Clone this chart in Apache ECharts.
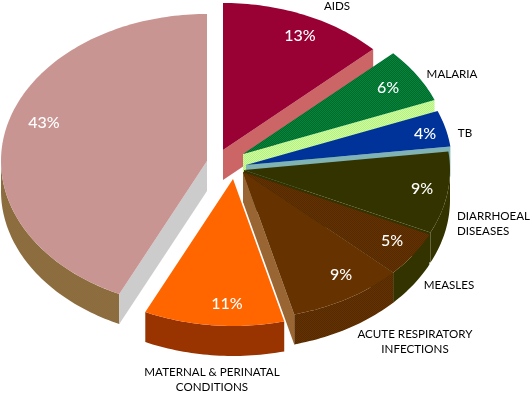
<!DOCTYPE html>
<html>
<head>
<meta charset="utf-8">
<style>
html, body { margin: 0; padding: 0; background: #fff; }
#chart { width: 531px; height: 396px; }
</style>
<script src="https://cdn.jsdelivr.net/npm/echarts@6/dist/echarts.min.js"></script>
</head>
<body>
<div id="chart"></div>
<script>
// values, clockwise from 12 o'clock
const categories = ['AIDS', 'MALARIA', 'TB', 'DIARRHOEAL\nDISEASES', 'MEASLES',
    'ACUTE RESPIRATORY\nINFECTIONS', 'MATERNAL & PERINATAL\nCONDITIONS', 'OTHER'];
const shares = [13, 6, 4, 9, 5, 9, 11, 43];

// layout of the tilted pie
const center = [244, 172];
const radiusX = 206;
const radiusY = 147;
const depth = 30;
const explodeX = [-21, -1, 2, 0, -1, -1, -11, -37];
const explodeY = [-22, -18, -7, -2, 0, 0, 7, -11];
const percentX = [300, 388, 425, 422, 392, 341, 227, 44];
const percentY = [36, 88, 134, 189, 241, 275, 304, 123];
const labelX = [337, 452, 465, 457, 449, 415, 212, 0];
const labelY = [6, 74, 133, 224, 285, 342, 380, 0];
const labelAlign = ['center', 'center', 'center', 'left', 'center', 'center', 'center', 'center'];

// two colour dither, like the old gif
function dither(a, b) {
    const c = document.createElement('canvas');
    c.width = 2;
    c.height = 2;
    const ctx = c.getContext('2d');
    ctx.fillStyle = a;
    ctx.fillRect(0, 0, 2, 2);
    ctx.fillStyle = b;
    ctx.fillRect(0, 0, 1, 1);
    ctx.fillRect(1, 1, 1, 1);
    return { image: c, repeat: 'repeat' };
}

const topColors = ['#990033', dither('#006633', '#008833'), '#003399', '#333300',
    dither('#663000', '#522b00'), '#663300', '#ff6600', '#c99592'];
const sideColors = ['#cc6666', '#ccff99', '#80b3b3', '#333300',
    '#333300', dither('#663000', '#522b00'), '#993300', dither('#9a6a35', '#80704a')];
const cutColors = ['#cc6666', dither('#ccff99', '#b8ee88'), '#80b3b3', '#333300',
    '#333300', '#996633', '#993300', '#cccccc'];

const starts = [];
shares.reduce(function (sum, v, i) {
    starts[i] = sum;
    return sum + v;
}, 0);
const total = shares.reduce(function (a, b) { return a + b; }, 0);

function toAngle(v) {
    return v / total * Math.PI * 2;
}

function arcPoints(cx, cy, a1, a2) {
    const pts = [];
    const n = Math.max(2, Math.ceil((a2 - a1) / 0.02));
    for (let i = 0; i <= n; i++) {
        const a = a1 + (a2 - a1) * i / n;
        pts.push([cx + radiusX * Math.sin(a), cy - radiusY * Math.cos(a)]);
    }
    return pts;
}

function poly(points, fill) {
    return { type: 'polygon', shape: { points: points }, style: { fill: fill, stroke: null } };
}

function renderSlice(params, api) {
    const i = params.dataIndex;
    const a1 = toAngle(api.value(1));
    const a2 = a1 + toAngle(api.value(0));
    const tx = center[0] + explodeX[i];
    const ty = center[1] + explodeY[i];
    const children = [];
    const down = function (p) { return [p[0], p[1] + depth]; };

    // rim, only the part turned to the viewer
    const f1 = Math.max(a1, Math.PI / 2);
    const f2 = Math.min(a2, Math.PI * 1.5);
    if (f2 > f1) {
        const rim = arcPoints(tx, ty, f1, f2);
        children.push(poly(rim.concat(rim.map(down).reverse()), sideColors[i]));
    }
    // cut faces
    const tip = [tx, ty];
    if (a2 < Math.PI) {
        const e = arcPoints(tx, ty, a2, a2 + 0.001)[0];
        children.push(poly([tip, e, down(e), down(tip)], cutColors[i]));
    }
    if (a1 > Math.PI) {
        const s = arcPoints(tx, ty, a1, a1 + 0.001)[0];
        children.push(poly([tip, s, down(s), down(tip)], cutColors[i]));
    }
    // top
    children.push(poly([tip].concat(arcPoints(tx, ty, a1, a2)), topColors[i]));
    children.push({
        type: 'text',
        z2: 10,
        style: {
            text: api.value(0) + '%',
            x: percentX[i],
            y: percentY[i],
            fill: '#fff',
            font: '500 16px Lato',
            align: 'center',
            verticalAlign: 'middle'
        }
    });
    if (i < categories.length - 1) {
        children.push({
            type: 'text',
            z2: 10,
            style: {
                text: categories[i],
                x: labelX[i],
                y: labelY[i],
                fill: '#000',
                font: '11.6px Lato',
                lineHeight: 15,
                align: labelAlign[i],
                verticalAlign: 'middle'
            }
        });
    }
    return { type: 'group', children: children };
}

const myChart = echarts.init(document.getElementById('chart'));
myChart.setOption({
    animation: false,
    backgroundColor: '#fff',
    series: [{
        type: 'custom',
        coordinateSystem: 'none',
        renderItem: renderSlice,
        data: shares.map(function (v, i) { return [v, starts[i]]; })
    }]
});
</script>
</body>
</html>
